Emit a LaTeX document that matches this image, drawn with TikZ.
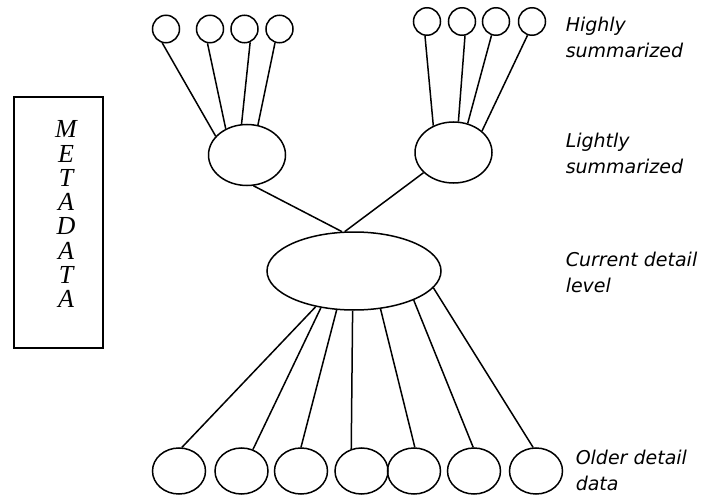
\documentclass[tikz,border=0pt]{standalone}
\usepackage{fontspec}
\newfontfamily\lblfont{DejaVu Sans}
\newfontfamily\metafont{Liberation Serif}
\usetikzlibrary{shapes.geometric}
\tikzset{
    leaf/.style={draw, ellipse, inner sep=0pt, minimum width=27pt, minimum height=27.5pt},
    summ/.style={draw, ellipse, inner sep=0pt, minimum width=77pt, minimum height=61pt},
    cur/.style={draw, ellipse, inner sep=0pt, minimum width=174pt, minimum height=78pt},
    old/.style={draw, ellipse, inner sep=0pt, minimum width=53pt, minimum height=46pt},
    metabox/.style={draw, rectangle, inner sep=0pt, minimum width=89pt, minimum height=251pt},
    lvl/.style={anchor=base west, align=left, inner sep=0pt, font=\lblfont\itshape\fontsize{19}{26}\selectfont},
    metaltr/.style={anchor=north, align=center, inner sep=0pt, font=\metafont\itshape\fontsize{26}{24.3}\selectfont}
}

\begin{document}
\begin{tikzpicture}[x=1pt, y=-1pt, line width=1.5pt]
    \useasboundingbox (0,0) rectangle (705,495);
    % metadata box
    \node[metabox] (meta) at (58.5,222.5) {};
    \node[metaltr] (metatxt) at (66,120) {M\\E\\T\\A\\D\\A\\T\\A};
    % highly summarized
    \node[leaf] (hl1) at (166,29) {};
    \node[leaf] (hl2) at (210,29) {};
    \node[leaf] (hl3) at (244.5,29) {};
    \node[leaf] (hl4) at (279.5,29) {};
    \node[leaf] (hr1) at (427,21.5) {};
    \node[leaf] (hr2) at (462,21.5) {};
    \node[leaf] (hr3) at (496,21.5) {};
    \node[leaf] (hr4) at (532,21.5) {};
    % lightly summarized
    \node[summ] (ls) at (247,155) {};
    \node[summ] (rs) at (453.5,152.5) {};
    % current detail
    \node[cur] (cd) at (354,271) {};
    % older detail
    \node[old] (od1) at (179,471) {};
    \node[old] (od2) at (241.5,471) {};
    \node[old] (od3) at (301,471) {};
    \node[old] (od4) at (361.5,471) {};
    \node[old] (od5) at (414,471) {};
    \node[old] (od6) at (474,471) {};
    \node[old] (od7) at (536,471) {};
    % labels (base = last line)
    \node[lvl] (lhigh) at (565,58) {Highly\\summarized};
    \node[lvl] (llight) at (565,173) {Lightly\\summarized};
    \node[lvl] (lcur) at (565,292) {Current detail\\level};
    \node[lvl] (lold) at (575,490) {Older detail\\data};
    % links
    \draw (hl1.-105) -- (ls.149.5);
    \draw (hl2.-100) -- (ls.129);
    \draw (hl3.-67) -- (ls.100);
    \draw (hl4.-108) -- (ls.70);
    \draw (hr1.-98) -- (rs.127.6);
    \draw (hr2.-78) -- (rs.81.6);
    \draw (hr3.-108) -- (rs.64.6);
    \draw (hr4.-108) -- (rs.37.3);
    \draw (ls.-78) -- (cd.107.5);
    \draw (rs.-146) -- (cd.103);
    \draw (cd.-137) -- (od1.83);
    \draw (cd.-132.5) -- (od2.62);
    \draw (cd.-114) -- (od3.90);
    \draw (cd.-92) -- (od4.115);
    \draw (cd.-55) -- (od5.88);
    \draw (cd.-26) -- (od6.92);
    \draw (cd.-12) -- (od7.97);
\end{tikzpicture}
\end{document}
